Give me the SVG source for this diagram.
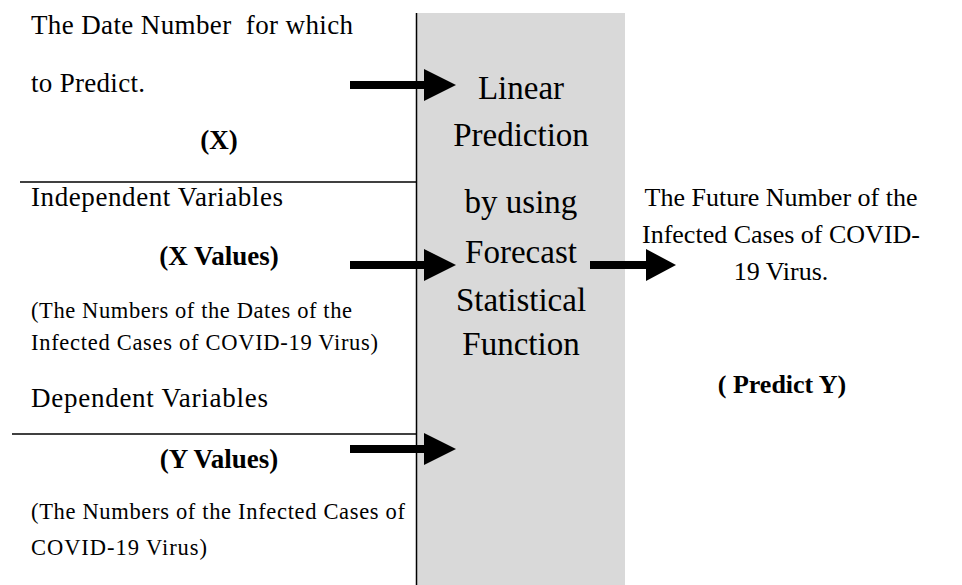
<svg xmlns="http://www.w3.org/2000/svg" width="962" height="585" viewBox="0 0 962 585">
<style>
text{font-family:"Liberation Serif","Times New Roman",serif;fill:#000;white-space:pre}
.l{font-size:27px}
.s{font-size:22.5px}
.b{font-weight:bold;font-size:27px}
.c{font-size:33px;text-anchor:middle}
.r{font-size:26px;text-anchor:middle}
.ln{stroke:#000;stroke-width:1.5;fill:none}
</style>
<defs>
<g id="arr"><rect x="0" y="-4" width="76" height="8" fill="#000"/><polygon points="74,-16 106,0 74,16" fill="#000"/></g>
</defs>
<rect width="962" height="585" fill="#fff"/>
<g id="process">
<rect x="417" y="13" width="208" height="572" fill="#d9d9d9"/>
<text class="c" x="521" y="99">Linear</text>
<text class="c" x="521" y="146">Prediction</text>
<text class="c" x="521" y="213">by using</text>
<text class="c" x="521" y="263">Forecast</text>
<text class="c" x="521" y="311">Statistical</text>
<text class="c" x="521" y="355">Function</text>
</g>
<g id="frame">
<line class="ln" x1="416.5" y1="13" x2="416.5" y2="585"/>
<line class="ln" x1="20" y1="182" x2="417" y2="182"/>
<line class="ln" x1="12" y1="434" x2="417" y2="434"/>
</g>
<g id="input-x">
<text class="l" x="31" y="34" textLength="322" lengthAdjust="spacing">The Date Number  for which</text>
<text class="l" x="31" y="92" textLength="114" lengthAdjust="spacing">to Predict.</text>
<text class="b" x="219" y="149" text-anchor="middle">(X)</text>
</g>
<g id="input-xvalues">
<text class="l" x="31" y="206" textLength="252" lengthAdjust="spacing">Independent Variables</text>
<text class="b" x="219" y="265" text-anchor="middle">(X Values)</text>
<text class="s" x="31" y="318" textLength="321" lengthAdjust="spacing">(The Numbers of the Dates of the</text>
<text class="s" x="31" y="350" textLength="347" lengthAdjust="spacing">Infected Cases of COVID-19 Virus)</text>
</g>
<g id="input-yvalues">
<text class="l" x="31" y="407" textLength="237" lengthAdjust="spacing">Dependent Variables</text>
<text class="b" x="219" y="468" text-anchor="middle">(Y Values)</text>
<text class="s" x="31" y="519" textLength="374" lengthAdjust="spacing">(The Numbers of the Infected Cases of</text>
<text class="s" x="31" y="555" textLength="176" lengthAdjust="spacing">COVID-19 Virus)</text>
</g>
<g id="output">
<text class="r" x="781" y="206">The Future Number of the</text>
<text class="r" x="781" y="243">Infected Cases of COVID-</text>
<text class="r" x="781" y="280">19 Virus.</text>
<text class="b" x="782" y="393" text-anchor="middle" style="font-size:26px">( Predict Y)</text>
</g>
<g id="connectors">
<use href="#arr" x="350" y="85"/>
<use href="#arr" x="350" y="265"/>
<use href="#arr" x="350" y="449"/>
<rect x="590" y="261" width="58" height="8" fill="#000"/>
<polygon points="646,249 676,265 646,281" fill="#000"/>
</g>
</svg>
